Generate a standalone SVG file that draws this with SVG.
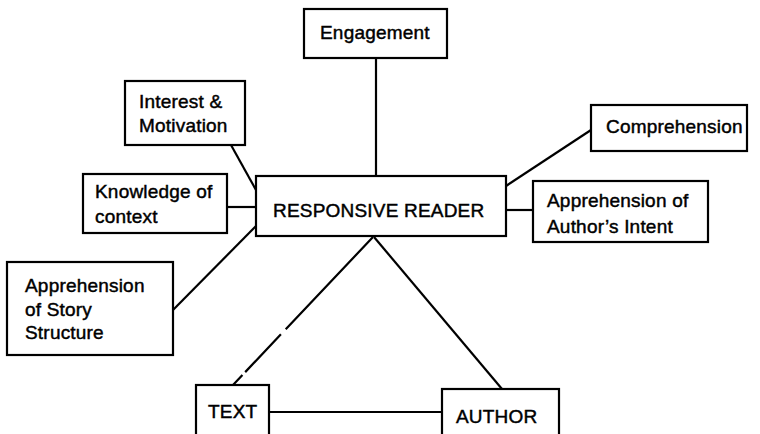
<svg xmlns="http://www.w3.org/2000/svg" width="760" height="434" viewBox="0 0 760 434">
<style>
.box{fill:#fff;stroke:#000;stroke-width:2.2}
.ln{fill:none;stroke:#000;stroke-width:2.2}
text{font-family:"Liberation Sans",Arial,sans-serif;font-size:19px;letter-spacing:0.2px;fill:#000;stroke:#000;stroke-width:0.45}
</style>
<rect width="760" height="434" fill="#fff"/>
<g id="connectors">
<line class="ln" x1="376" y1="58" x2="376" y2="176"/>
<line class="ln" x1="231" y1="145" x2="256" y2="190"/>
<line class="ln" x1="227" y1="207" x2="256" y2="207"/>
<line class="ln" x1="506" y1="186" x2="591" y2="130"/>
<line class="ln" x1="506" y1="210" x2="533" y2="210"/>
<line class="ln" x1="173" y1="310" x2="256" y2="226"/>
<line class="ln" x1="373" y1="237" x2="233" y2="385" stroke-dasharray="127 7 52 4 30"/>
<line class="ln" x1="374" y1="237" x2="502" y2="389"/>
<line class="ln" x1="269" y1="412" x2="442" y2="412"/>
</g>
<g id="engagement">
<rect class="box" x="304" y="9" width="143" height="49"/>
<text x="320" y="39">Engagement</text>
</g>
<g id="interest">
<rect class="box" x="125" y="81" width="120" height="64"/>
<text x="139" y="108">Interest &amp;</text>
<text x="139" y="132">Motivation</text>
</g>
<g id="knowledge">
<rect class="box" x="83" y="174" width="144" height="59"/>
<text x="95" y="198">Knowledge of</text>
<text x="95" y="223">context</text>
</g>
<g id="reader">
<rect class="box" x="256" y="176" width="250" height="60"/>
<text x="273" y="217">RESPONSIVE READER</text>
</g>
<g id="comprehension">
<rect class="box" x="591" y="105" width="156" height="46"/>
<text x="606" y="133">Comprehension</text>
</g>
<g id="intent">
<rect class="box" x="533" y="181" width="175" height="61"/>
<text x="547" y="207">Apprehension of</text>
<text x="547" y="233">Author’s Intent</text>
</g>
<g id="story">
<rect class="box" x="7" y="262" width="166" height="93"/>
<text x="25" y="292">Apprehension</text>
<text x="25" y="316">of Story</text>
<text x="25" y="339">Structure</text>
</g>
<g id="text">
<rect class="box" x="196" y="385" width="73" height="60"/>
<text x="208" y="418">TEXT</text>
</g>
<g id="author">
<rect class="box" x="442" y="389" width="117" height="60"/>
<text x="456" y="423">AUTHOR</text>
</g>
</svg>
